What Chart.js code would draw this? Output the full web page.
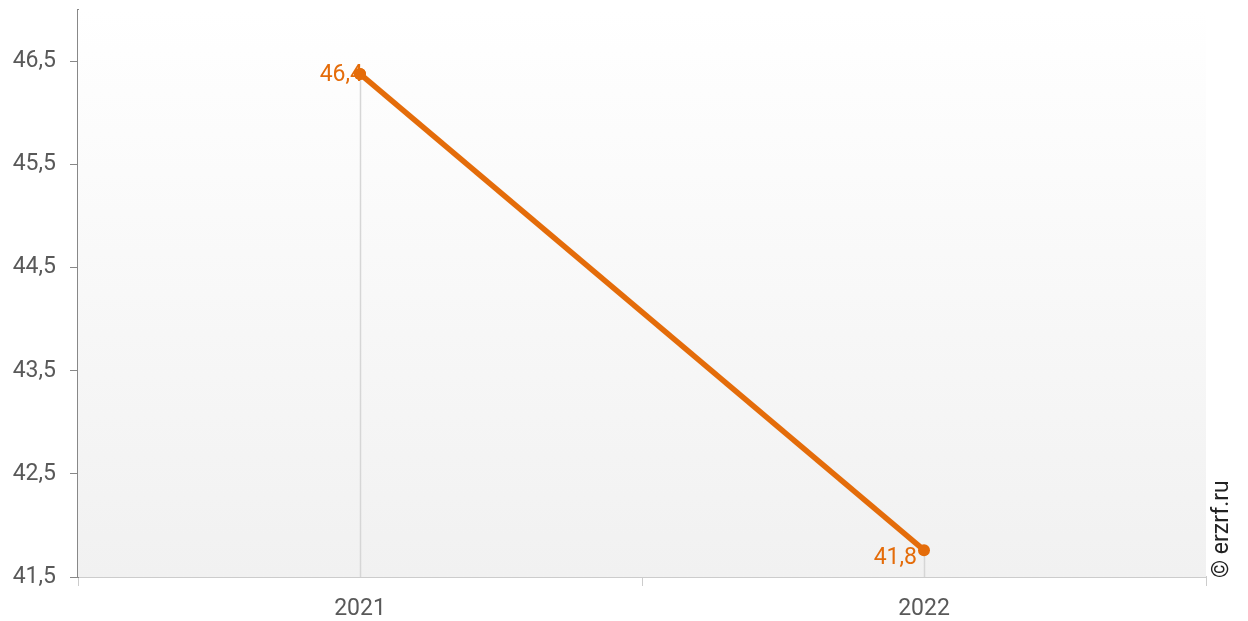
<!DOCTYPE html>
<html>
<head>
<meta charset="utf-8">
<script src="https://cdn.jsdelivr.net/npm/chart.js@4"></script>
<style>
  html, body { margin: 0; padding: 0; background: #fff; }
  #wrap { width: 1248px; height: 621px; }
</style>
</head>
<body>
<div id="wrap"><canvas id="chart" width="1248" height="621"></canvas></div>
<script>
const years = ["2021", "2022"];
const values = [46.38, 41.76];
const yTicks = [41.5, 42.5, 43.5, 44.5, 45.5, 46.5];

const ORANGE = "#E46C0A";
const fmt = v => v.toFixed(1).replace(".", ",");

// gradient behind the plot area + drop lines from points to the x axis
const backdrop = {
    id: "backdrop",
    beforeDatasetsDraw(chart) {
        const { ctx, chartArea: a, scales } = chart;
        ctx.save();
        const g = ctx.createLinearGradient(0, a.top, 0, a.bottom);
        g.addColorStop(0, "#ffffff");
        g.addColorStop(1, "#f1f1f1");
        ctx.fillStyle = g;
        ctx.fillRect(a.left, a.top, a.right - a.left, a.bottom - a.top);
        ctx.strokeStyle = "#d6d6d6";
        ctx.lineWidth = 1.5;
        chart.getDatasetMeta(0).data.forEach(pt => {
            ctx.beginPath();
            ctx.moveTo(Math.round(pt.x) + 0.5, pt.y);
            ctx.lineTo(Math.round(pt.x) + 0.5, scales.y.bottom);
            ctx.stroke();
        });
        ctx.restore();
    }
};

const labels = {
    id: "labels",
    afterDatasetsDraw(chart) {
        const { ctx } = chart;
        ctx.save();
        ctx.font = "23px Roboto";
        ctx.fillStyle = ORANGE;
        ctx.textAlign = "right";
        ctx.textBaseline = "middle";
        chart.getDatasetMeta(0).data.forEach((pt, i) => {
            const dx = i === 0 ? 3 : -7;
            const dy = i === 0 ? 1 : 8;
            ctx.fillText(fmt(values[i]), pt.x + dx, pt.y + dy);
        });
        // redraw the first point on top of its label
        const p0 = chart.getDatasetMeta(0).data[0];
        ctx.beginPath();
        ctx.arc(p0.x, p0.y, 6, 0, Math.PI * 2);
        ctx.fill();
        // watermark
        ctx.fillStyle = "#222";
        ctx.font = "23px Roboto";
        ctx.translate(1222, 578);
        ctx.rotate(-Math.PI / 2);
        ctx.textAlign = "left";
        ctx.textBaseline = "middle";
        ctx.fillText("\u00A9 erzrf.ru", 0, 0);
        ctx.restore();
    }
};

new Chart(document.getElementById("chart").getContext("2d"), {
    type: "line",
    data: {
        labels: years,
        datasets: [{
            data: values,
            borderColor: ORANGE,
            backgroundColor: ORANGE,
            borderWidth: 5.5,
            pointRadius: 6,
            pointHoverRadius: 6,
            pointBorderWidth: 0,
            tension: 0
        }]
    },
    options: {
        responsive: false,
        animation: false,
        layout: { padding: { top: 10, right: 42, left: 0, bottom: 0 } },
        plugins: { legend: { display: false }, tooltip: { enabled: false } },
        scales: {
            x: {
                offset: true,
                grid: {
                    offset: true,
                    drawOnChartArea: false,
                    tickLength: 9,
                    color: "#cccccc"
                },
                border: { color: "#cccccc", width: 2 },
                ticks: {
                    color: "#595959",
                    font: { family: "Roboto", size: 23 },
                    padding: 9
                },
                afterFit: scale => { scale.height = 44; }
            },
            y: {
                min: 41.5,
                max: 47,
                afterBuildTicks: scale => {
                    scale.ticks = yTicks.map(v => ({ value: v }));
                },
                afterFit: scale => {
                    scale.width = 78;
                    scale.paddingTop = 0;
                    scale.paddingBottom = 0;
                },
                grid: {
                    drawOnChartArea: false,
                    tickLength: 8,
                    color: "#888888"
                },
                border: { color: "#888888", width: 2 },
                ticks: {
                    color: "#595959",
                    font: { family: "Roboto", size: 23 },
                    padding: 14,
                    callback: v => fmt(v)
                }
            }
        }
    },
    plugins: [backdrop, labels]
});
</script>
</body>
</html>
